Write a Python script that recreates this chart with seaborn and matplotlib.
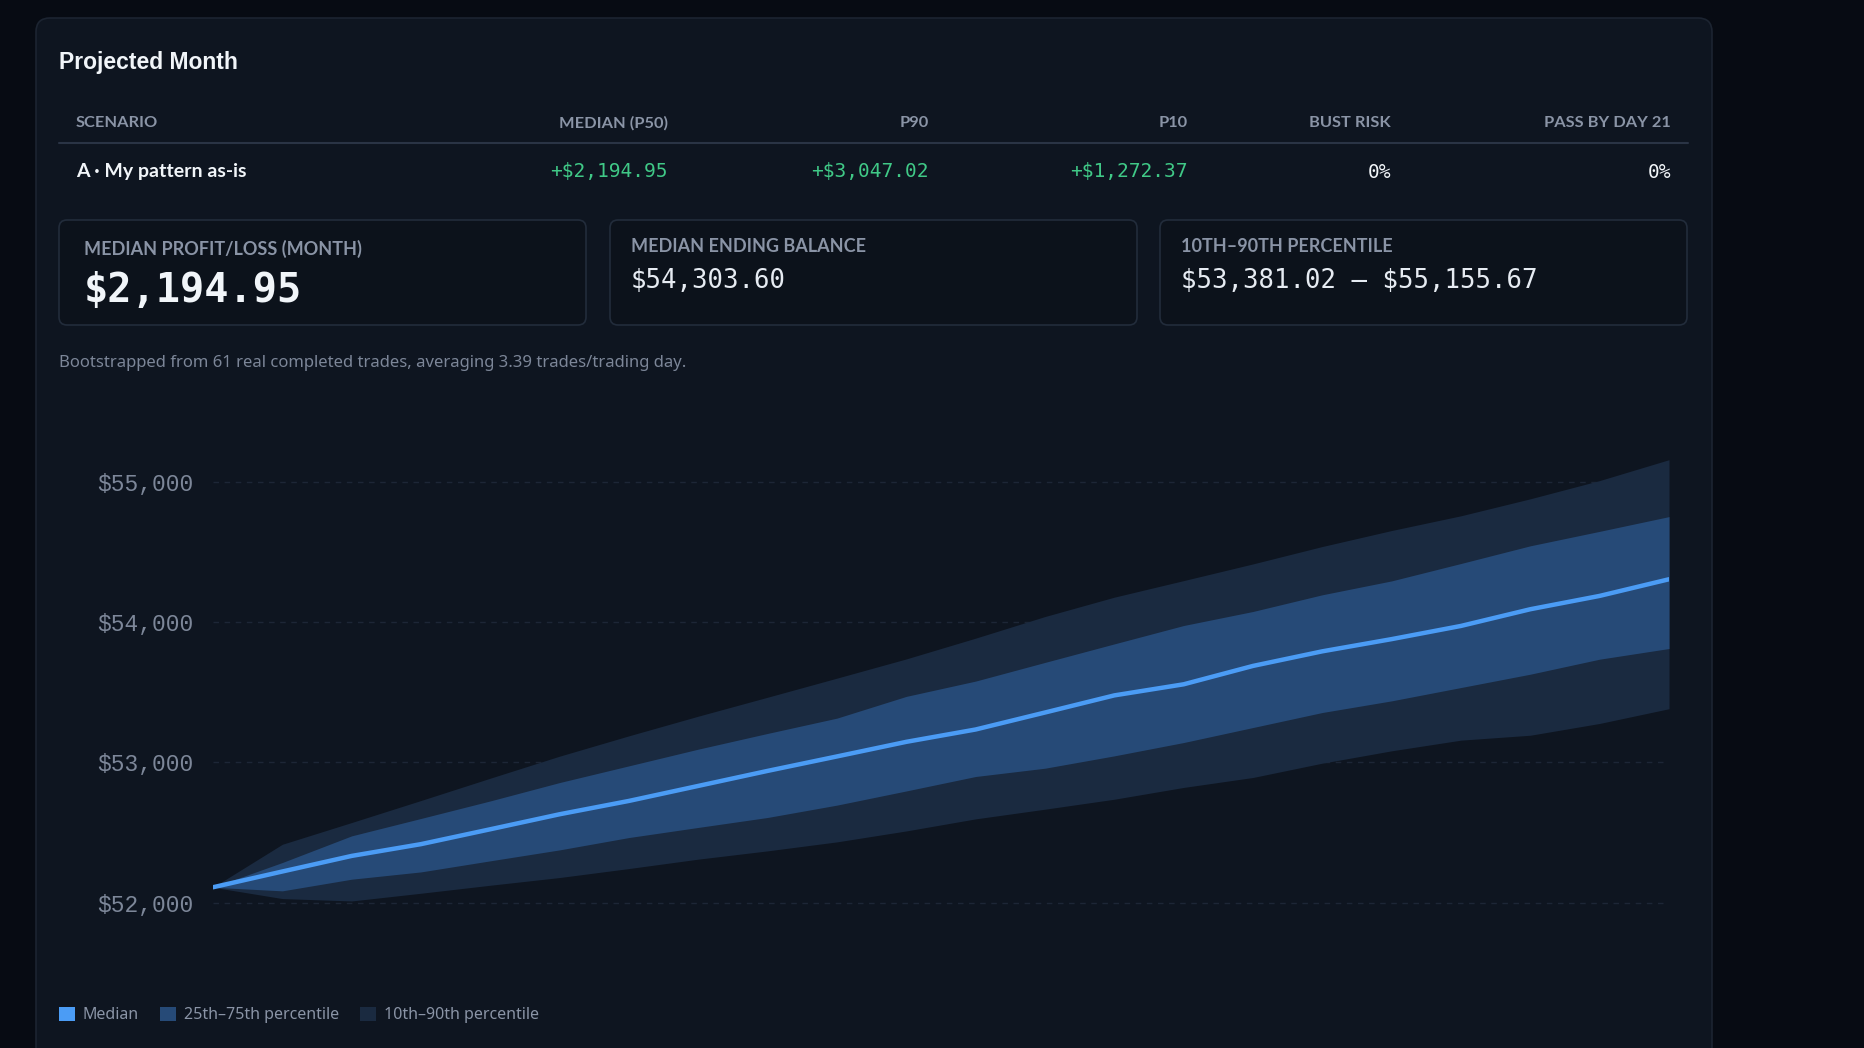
import numpy as np
import pandas as pd
import seaborn as sns
import matplotlib.pyplot as plt
from matplotlib.patches import FancyBboxPatch, Patch
from matplotlib.ticker import FuncFormatter

# projected balance per trading day
days = list(range(22))
p10 = [52108.65, 52028, 52011, 52066, 52123, 52178, 52242, 52309, 52368, 52432, 52510,
       52596, 52665, 52736, 52820, 52891, 52993, 53081, 53157, 53192, 53276, 53381.02]
p25 = [52108.65, 52083, 52166, 52218, 52297, 52375, 52463, 52535, 52606, 52694, 52795,
       52898, 52957, 53045, 53140, 53247, 53354, 53437, 53532, 53627, 53734, 53810]
p50 = [52108.65, 52221, 52332, 52416, 52522, 52629, 52724, 52831, 52938, 53041, 53145,
       53233, 53354, 53476, 53555, 53686, 53790, 53877, 53971, 54090, 54185, 54303.60]
p75 = [52108.65, 52285, 52475, 52599, 52724, 52855, 52974, 53093, 53205, 53314, 53469,
       53578, 53711, 53843, 53974, 54074, 54193, 54292, 54416, 54542, 54645, 54750]
p90 = [52108.65, 52415, 52570, 52727, 52886, 53043, 53188, 53328, 53463, 53599, 53736,
       53884, 54038, 54176, 54294, 54413, 54537, 54651, 54756, 54877, 55007, 55155.67]

y_ticks = [52000, 53000, 54000, 55000]

table_cols = ["SCENARIO", "MEDIAN (P50)", "P90", "P10", "BUST RISK", "PASS BY DAY 21"]
table_row = ["A · My pattern as-is", "+$2,194.95", "+$3,047.02", "+$1,272.37", "0%", "0%"]

kpi_labels = ["MEDIAN PROFIT/LOSS (MONTH)", "MEDIAN ENDING BALANCE", "10TH–90TH PERCENTILE"]
kpi_values = ["$2,194.95", "$54,303.60", "$53,381.02 – $55,155.67"]

note = "Bootstrapped from 61 real completed trades, averaging 3.39 trades/trading day."

df = pd.DataFrame({"day": days, "p10": p10, "p25": p25, "p50": p50, "p75": p75, "p90": p90})

# colours
BG = "#070b13"
CARD = "#0e1520"
CARD_EDGE = "#1c2431"
BOX = "#0c121b"
BOX_EDGE = "#222c3b"
MUTED = "#8a94a6"
WHITE = "#f1f5f9"
GREEN = "#40c987"
BAND_OUT = "#1a2a40"
BAND_IN = "#264a77"
LINE = "#4b9cf5"

sns.set_style("dark", {"axes.facecolor": "none", "figure.facecolor": BG})
plt.rcParams["font.family"] = ["Noto Sans", "DejaVu Sans"]
plt.rcParams["text.parse_math"] = False

BOLD = ["Lato", "DejaVu Sans"]
MONO = ["DejaVu Sans Mono"]

W, H = 1864, 1048
fig = plt.figure(figsize=(W / 100, H / 100), dpi=100)
fig.patch.set_facecolor(BG)

# background layer in pixel coordinates (y down)
bg = fig.add_axes([0, 0, 1, 1], zorder=0)
bg.set_xlim(0, W)
bg.set_ylim(H, 0)
bg.axis("off")

bg.add_patch(FancyBboxPatch((36, 18), 1676, 1200, boxstyle="round,pad=0,rounding_size=14",
                            facecolor=CARD, edgecolor=CARD_EDGE, linewidth=1.2))

bg.text(59, 62, "Projected Month", fontsize=16.5, fontweight="bold", color=WHITE,
        family=["Liberation Sans", "DejaVu Sans"], va="center", ha="left")

# scenario table
col_right = [None, 668, 929, 1188, 1391, 1671]
for i, name in enumerate(table_cols):
    if i == 0:
        bg.text(76, 123, name, fontsize=11.8, fontweight="bold", color=MUTED, family=BOLD,
                va="center", ha="left")
    else:
        bg.text(col_right[i], 123, name, fontsize=11.8, fontweight="bold", color=MUTED, family=BOLD,
                va="center", ha="right")
bg.plot([59, 1688], [143, 143], color="#2a3445", linewidth=1.5)

bg.text(76, 172, table_row[0], fontsize=14, fontweight="bold", color=WHITE, family=BOLD,
        va="center", ha="left")
for i in range(1, 6):
    c = GREEN if table_row[i].startswith("+") else WHITE
    bg.text(col_right[i], 172, table_row[i], fontsize=14, color=c, family=MONO,
            va="center", ha="right")

# KPI boxes
box_x = [59, 610, 1160]
for i in range(3):
    bg.add_patch(FancyBboxPatch((box_x[i], 220), 527, 105, boxstyle="round,pad=0,rounding_size=8",
                                facecolor=BOX, edgecolor=BOX_EDGE, linewidth=1.2))
    if i == 0:
        bg.text(box_x[i] + 25, 249, kpi_labels[i], fontsize=13, fontweight="bold", color=MUTED,
                family=BOLD, va="center", ha="left")
        bg.text(box_x[i] + 25, 291, kpi_values[i], fontsize=29, fontweight="bold", color=WHITE,
                family=MONO, va="center", ha="left")
    else:
        bg.text(box_x[i] + 21, 246, kpi_labels[i], fontsize=13, fontweight="bold", color=MUTED,
                family=BOLD, va="center", ha="left")
        bg.text(box_x[i] + 21, 281, kpi_values[i], fontsize=18.5, color="#e6ebf2",
                family=MONO, va="center", ha="left")

bg.text(59, 363, note, fontsize=12, color="#7c8698", va="center", ha="left")

# chart
y_lo, y_hi = 51700, 55400
ax_top, ax_bot = 425.4, 944.6
ax = fig.add_axes([213 / W, 1 - ax_bot / H, (1669 - 213) / W, (ax_bot - ax_top) / H], zorder=1)
ax.set_facecolor("none")
ax.fill_between(df["day"], df["p10"], df["p90"], color=BAND_OUT, linewidth=0, zorder=1)
ax.fill_between(df["day"], df["p25"], df["p75"], color=BAND_IN, linewidth=0, zorder=2)
sns.lineplot(data=df, x="day", y="p50", ax=ax, color=LINE, linewidth=3.2, zorder=3,
             solid_capstyle="round")

ax.set_xlim(0, 21)
ax.set_ylim(y_lo, y_hi)
ax.set_yticks(y_ticks)
ax.yaxis.set_major_formatter(FuncFormatter(lambda v, p: "${:,.0f}".format(v)))
ax.set_xticks([])
ax.set_xlabel("")
ax.set_ylabel("")
ax.grid(axis="y", color="#1d2636", linestyle=(0, (4, 4)), linewidth=1, zorder=0)
ax.grid(axis="x", visible=False)
for s in ax.spines.values():
    s.set_visible(False)
ax.tick_params(axis="y", length=0, pad=14, labelsize=16.5, labelcolor="#7d8799")
for lbl in ax.get_yticklabels():
    lbl.set_family(["Liberation Mono", "DejaVu Sans Mono"])

handles = [Patch(facecolor=LINE, edgecolor="none", label="Median"),
           Patch(facecolor=BAND_IN, edgecolor="none", label="25th–75th percentile"),
           Patch(facecolor=BAND_OUT, edgecolor="none", label="10th–90th percentile")]
fig.legend(handles=handles, loc="center left", bbox_to_anchor=(59 / W, 1 - 1015 / H), ncol=3,
           frameon=False, fontsize=11.5, labelcolor=MUTED, handlelength=1.0, handleheight=1.0,
           handletextpad=0.5, columnspacing=1.3, borderpad=0, borderaxespad=0)

fig.savefig("out.png", dpi=100, facecolor=BG)
